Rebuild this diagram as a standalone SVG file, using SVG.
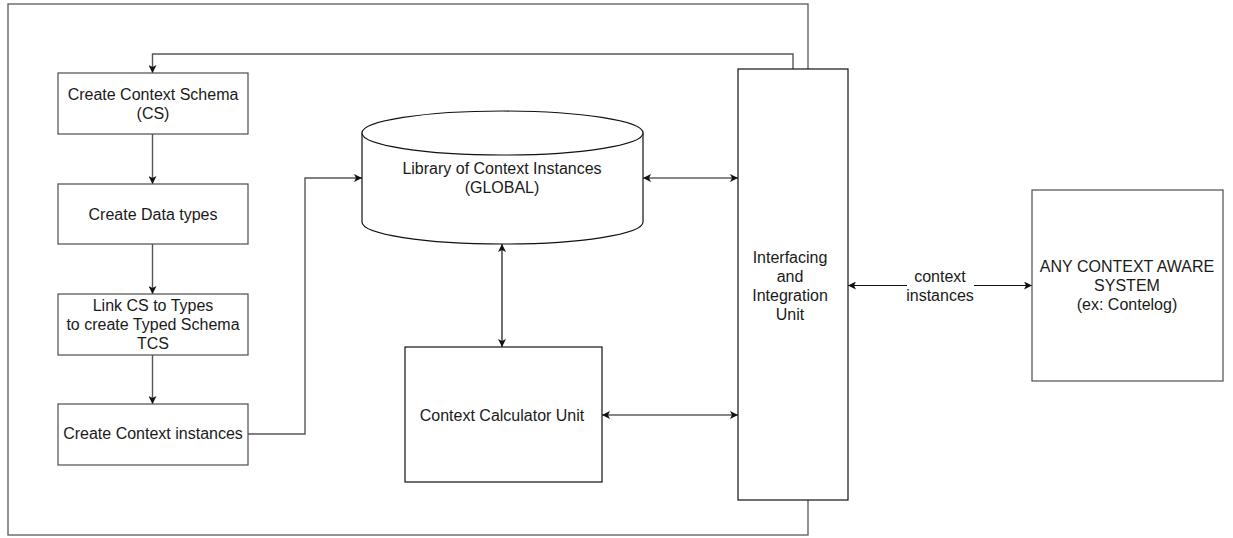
<svg xmlns="http://www.w3.org/2000/svg" width="1233" height="538" viewBox="0 0 1233 538">
  <style>
    .box { fill: #ffffff; stroke: #4d4d4d; stroke-width: 1.2; }
    .dark { fill: #ffffff; stroke: #111111; stroke-width: 1.2; }
    .frame { fill: none; stroke: #666666; stroke-width: 1.4; }
    .wire { fill: none; stroke: #555555; stroke-width: 1.4; }
    .link { fill: none; stroke: #111111; stroke-width: 1.2; }
    text { font-family: "Liberation Sans", Arial, sans-serif; font-size: 16px; fill: #1a1a1a; text-anchor: middle; }
  </style>
  <defs>
    <marker id="head" viewBox="0 0 10 10" refX="10" refY="5" markerWidth="8" markerHeight="8" markerUnits="userSpaceOnUse" orient="auto-start-reverse">
      <path d="M0,0 L10,5 L0,10 L2.5,5 Z" fill="#111111"/>
    </marker>
  </defs>
  <rect width="1233" height="538" fill="#ffffff"/>

  <!-- enclosing frame -->
  <rect class="frame" x="8" y="4" width="800" height="531"/>

  <!-- connectors -->
  <g id="connectors">
    <polyline class="wire" points="793,69 793,54 152.5,54 152.5,73" marker-end="url(#head)"/>
    <line class="wire" x1="152.5" y1="134" x2="152.5" y2="184" marker-end="url(#head)"/>
    <line class="wire" x1="152.5" y1="244" x2="152.5" y2="294" marker-end="url(#head)"/>
    <line class="wire" x1="152.5" y1="355" x2="152.5" y2="404" marker-end="url(#head)"/>
    <polyline class="wire" points="248,434 305,434 305,178 362,178" marker-end="url(#head)"/>
    <line class="link" x1="643" y1="178" x2="738" y2="178" marker-start="url(#head)" marker-end="url(#head)"/>
    <line class="link" x1="502" y1="244" x2="502" y2="347" marker-start="url(#head)" marker-end="url(#head)"/>
    <line class="link" x1="602" y1="415" x2="738" y2="415" marker-start="url(#head)" marker-end="url(#head)"/>
    <line class="link" x1="848" y1="285.5" x2="907" y2="285.5" marker-start="url(#head)"/>
    <line class="link" x1="974" y1="285.5" x2="1032" y2="285.5" marker-end="url(#head)"/>
    <text x="940" y="282">context</text>
    <text x="940" y="301">instances</text>
  </g>

  <g id="create-schema">
    <rect class="box" x="58" y="73" width="190" height="61"/>
    <text x="153" y="100">Create Context Schema</text>
    <text x="153" y="119">(CS)</text>
  </g>

  <g id="create-types">
    <rect class="box" x="58" y="184" width="190" height="60"/>
    <text x="153" y="220">Create Data types</text>
  </g>

  <g id="link-types">
    <rect class="box" x="58" y="294" width="190" height="61"/>
    <text x="153" y="311">Link CS to Types</text>
    <text x="153" y="330">to create Typed Schema</text>
    <text x="153" y="349">TCS</text>
  </g>

  <g id="create-instances">
    <rect class="box" x="58" y="404" width="190" height="61"/>
    <text x="153" y="439">Create Context instances</text>
  </g>

  <g id="library">
    <path class="dark" stroke-width="1.8" d="M362,133 L362,222 A140.5,22 0 0 0 643,222 L643,133 A140.5,22 0 0 0 362,133 Z"/>
    <path class="dark" fill="none" stroke-width="1.8" d="M362,133 A140.5,22 0 0 0 643,133"/>
    <text x="502" y="174">Library of Context Instances</text>
    <text x="502" y="193">(GLOBAL)</text>
  </g>

  <g id="calculator">
    <rect class="dark" x="405" y="347" width="197" height="135"/>
    <text x="502" y="421">Context Calculator Unit</text>
  </g>

  <g id="interfacing">
    <rect class="dark" x="738" y="69" width="110" height="431"/>
    <text x="790" y="263">Interfacing</text>
    <text x="790" y="282">and</text>
    <text x="790" y="301">Integration</text>
    <text x="790" y="320">Unit</text>
  </g>

  <g id="context-aware-system">
    <rect class="box" x="1032" y="190" width="191" height="191"/>
    <text x="1127" y="272">ANY CONTEXT AWARE</text>
    <text x="1127" y="291">SYSTEM</text>
    <text x="1127" y="310">(ex: Contelog)</text>
  </g>
</svg>
